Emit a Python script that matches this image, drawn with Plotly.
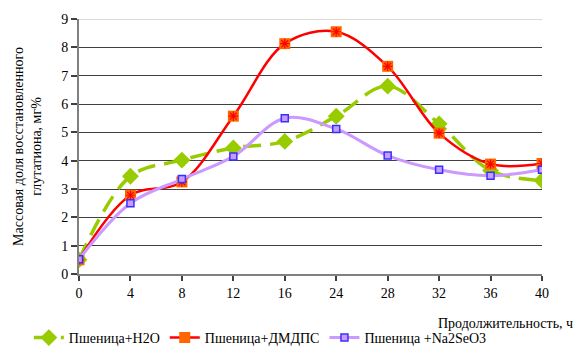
import plotly.graph_objects as go

categories = ["0", "4", "8", "12", "16", "24", "28", "32", "36", "40"]
h2o = [0.5, 3.45, 4.02, 4.45, 4.68, 5.57, 6.63, 5.3, 3.65, 3.3]
dmdps = [0.5, 2.78, 3.25, 5.57, 8.13, 8.55, 7.33, 4.97, 3.88, 3.9]
na2seo3 = [0.52, 2.5, 3.35, 4.15, 5.5, 5.12, 4.18, 3.68, 3.47, 3.68]
y_ticks = list(range(0, 10))

font_family = "Times New Roman, Liberation Serif, serif"

fig = go.Figure()
fig.add_trace(go.Scatter(
    x=categories, y=h2o, name="Пшеница+H2O", mode="lines+markers",
    line=dict(color="#99CC00", width=3.5, dash="18px,9px", shape="spline", smoothing=1.0),
    marker=dict(symbol="diamond", size=13, color="#99CC00"),
))
fig.add_trace(go.Scatter(
    x=categories, y=dmdps, name="Пшеница+ДМДПС", mode="lines+markers",
    line=dict(color="#FF0000", width=2.5, shape="spline", smoothing=1.0),
    marker=dict(symbol="square", size=11, color="#FF6600", line=dict(color="#FF6600", width=0)),
))
fig.add_trace(go.Scatter(
    x=categories, y=dmdps, showlegend=False, mode="markers", hoverinfo="skip",
    marker=dict(symbol="asterisk", size=8, color="#FF0000", line=dict(color="#FF0000", width=1.2)),
))
fig.add_trace(go.Scatter(
    x=categories, y=na2seo3, name="Пшеница +Na2SeO3", mode="lines+markers",
    line=dict(color="#CC99FF", width=3, shape="spline", smoothing=1.0),
    marker=dict(symbol="square", size=7, color="#CC99FF", line=dict(color="#3333FF", width=1.5)),
))

fig.update_layout(
    width=577, height=354,
    margin=dict(l=79, r=35, t=19, b=80, autoexpand=False),
    paper_bgcolor="white", plot_bgcolor="white",
    font=dict(family=font_family, size=14, color="black"),
    legend=dict(orientation="h", xref="container", yref="container", x=0.05, y=-0.015,
                xanchor="left", yanchor="bottom", font=dict(size=14), itemwidth=30,
                tracegroupgap=0, bgcolor="rgba(0,0,0,0)"),
    xaxis=dict(type="category", range=[0, 9], showgrid=False, showline=True,
               linecolor="#808080", linewidth=2, ticks="outside", ticklen=5,
               tickcolor="#404040", tickwidth=1.5, tickfont=dict(size=14),
               zeroline=False),
    yaxis=dict(range=[0, 9], tickvals=y_ticks, showgrid=True, gridcolor="#404040",
               gridwidth=1, showline=True, linecolor="#808080", linewidth=2,
               ticks="outside", ticklen=6, tickcolor="#404040", tickwidth=1.5,
               tickfont=dict(size=14), zeroline=False,
               title=dict(text="Массовая доля восстановленного<br>глутатиона, мг%",
                          font=dict(size=14), standoff=16)),
    shapes=[dict(type="line", xref="paper", yref="y", x0=0, x1=1, y0=9, y1=9,
                 line=dict(color="#D9D9D9", width=2), layer="below")],
    annotations=[dict(text="Продолжительность, ч", xref="paper", yref="paper",
                      x=(575 - 79) / 463, y=(274 - 323) / 255, xanchor="right", yanchor="middle",
                      showarrow=False, font=dict(size=14))],
)

fig.write_html("out.html")
